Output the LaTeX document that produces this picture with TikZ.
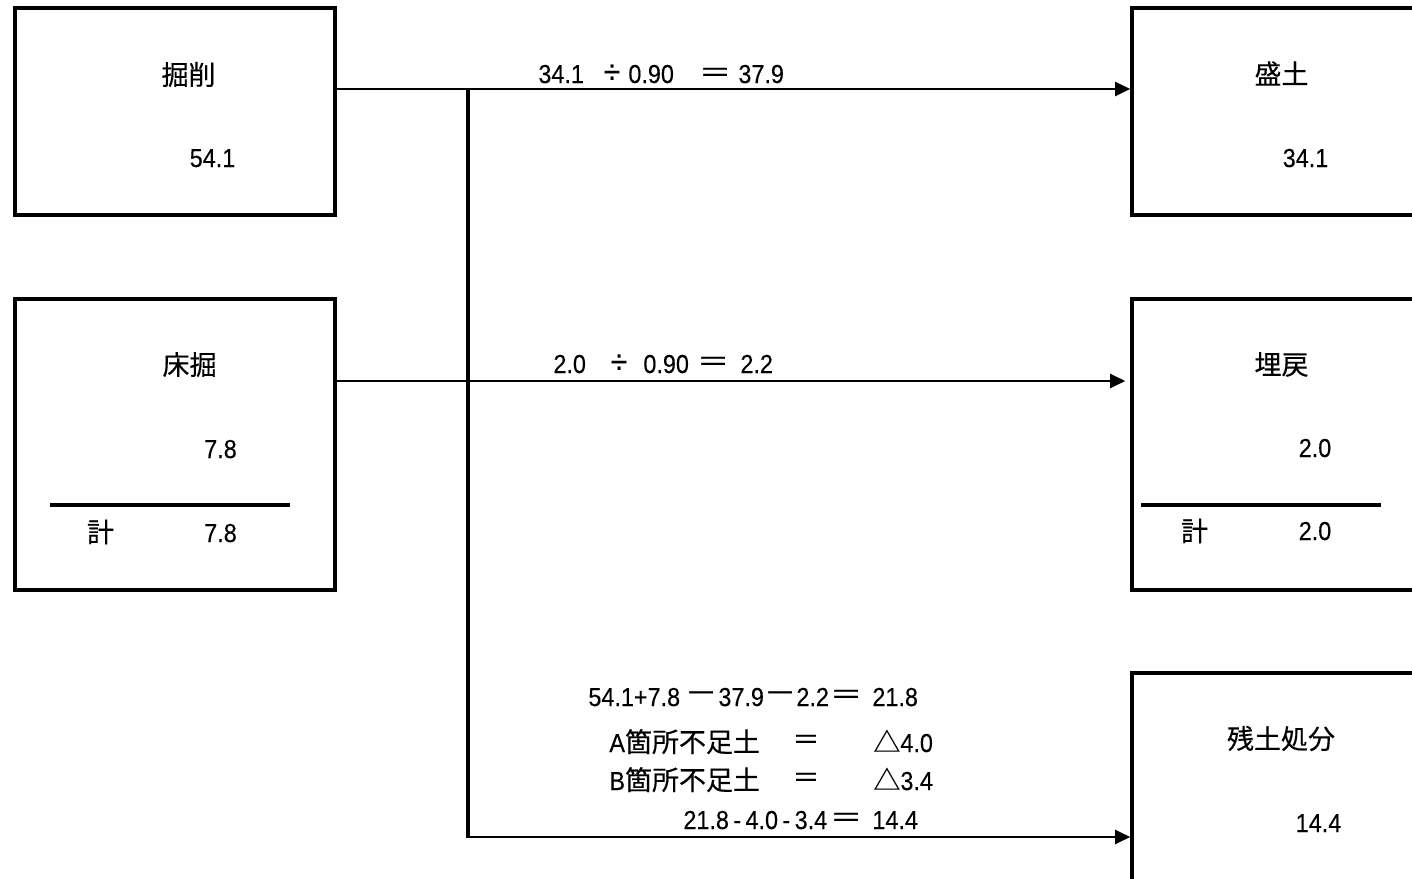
\documentclass[tikz,border=0pt]{standalone}
\usepackage{fontspec}
\usepackage{graphicx}
\setmainfont[FakeStretch=0.9,FakeBold=0.25]{Liberation Sans}
\newfontfamily\cjk[FakeBold=0.35]{Noto Sans CJK JP}
\newcommand\J[1]{{\cjk\fontsize{13.5pt}{16pt}\selectfont #1}}
\newcommand\JW[1]{\scalebox{1.2}[1]{\J{#1}}}
\usetikzlibrary{arrows.meta}
\begin{document}
\begin{tikzpicture}[x=0.5pt,y=-0.5pt,
  box/.style={draw,line width=1.8pt,rectangle,inner sep=0pt,minimum width=#1},
  lbl/.style={inner sep=0pt,font=\fontsize{13pt}{15pt}\selectfont},
  bl/.style={lbl,anchor=base},
  blw/.style={lbl,anchor=base west},
  ble/.style={lbl,anchor=base east},
  conn/.style={line width=1.1pt},
  trunk/.style={line width=1.6pt},
  rule/.style={line width=1.7pt},
  arr/.style={line width=1.1pt,-{Triangle[length=7.5pt,width=7pt]}}]
\useasboundingbox (0,0) rectangle (1412,878);
% boxes
\node[box=160pt,minimum height=103.5pt] (kussaku) at (175,111.5) {};
\node[box=160pt,minimum height=145.5pt] (tokobori) at (175,444.5) {};
\node[box=164pt,minimum height=103.5pt] (morido) at (1296,111.5) {};
\node[box=164pt,minimum height=145.5pt] (umemodoshi) at (1296,444.5) {};
\node[box=164pt,minimum height=113.5pt] (zando) at (1296,786.5) {};
% box texts
\node[lbl] (t1) at (188.5,74.5) {\J{掘削}};
\node[bl] (v1) at (212.5,167) {54.1};
\node[lbl] (t2) at (189.5,364.5) {\J{床掘}};
\node[bl] (v2) at (220.5,458) {7.8};
\coordinate (r2a) at (50,505);
\coordinate (r2b) at (290,505);
\draw[rule] (r2a) -- (r2b);
\node[lbl] (k2) at (100.5,532) {\J{計}};
\node[bl] (s2) at (220.5,542) {7.8};
\node[lbl] (t3) at (1281.5,73.5) {\J{盛土}};
\node[bl] (v3) at (1305.5,167) {34.1};
\node[lbl] (t4) at (1281.5,364.5) {\J{埋戻}};
\node[bl] (v4) at (1315,457) {2.0};
\coordinate (r4a) at (1141,505);
\coordinate (r4b) at (1381,505);
\draw[rule] (r4a) -- (r4b);
\node[lbl] (k4) at (1194.5,531) {\J{計}};
\node[bl] (s4) at (1315,540) {2.0};
\node[lbl] (t5) at (1281,738.5) {\J{残土処分}};
\node[bl] (v5) at (1318.5,832) {14.4};
% connectors
\coordinate (j1) at (468,89);
\coordinate (j2) at (468,381);
\coordinate (j3) at (468,837);
\draw[conn] (kussaku.east |- j1) -- (j1);
\draw[arr] (j1) -- (morido.west |- j1);
\draw[arr,shorten >=2.5pt] (tokobori.east |- j2) -- (umemodoshi.west |- j2);
\draw[trunk] (j1) -- (j3);
\draw[arr] ([xshift=-0.8pt]j3) -- (zando.west |- j3);
% formula 1
\node[blw] (f1a) at (538,83) {34.1};
\node[lbl] (f1b) at (612,74) {\fontsize{17pt}{17pt}\selectfont ÷};
\node[blw] (f1c) at (628,83) {0.90};
\node[lbl] (f1d) at (715,75) {\JW{＝}};
\node[blw] (f1e) at (738,83) {37.9};
% formula 2
\node[blw] (f2a) at (553,373) {2.0};
\node[lbl] (f2b) at (619,364) {\fontsize{17pt}{17pt}\selectfont ÷};
\node[blw] (f2c) at (643,373) {0.90};
\node[lbl] (f2d) at (713,364) {\JW{＝}};
\node[blw] (f2e) at (740,373) {2.2};
% remaining soil block
\node[blw] (g1a) at (588,706) {54.1+7.8};
\node[lbl] (g1b) at (701,697) {\JW{－}};
\node[blw] (g1c) at (718,706) {37.9};
\node[lbl] (g1d) at (780,697) {\JW{－}};
\node[blw] (g1e) at (796,706) {2.2};
\node[lbl] (g1f) at (846,697) {\JW{＝}};
\node[blw] (g1g) at (872,706) {21.8};
\node[blw] (g2a) at (609,752) {A\J{箇所不足土}};
\node[lbl] (g2b) at (806,742) {\J{＝}};
\node[blw] (g2c) at (873,752) {\J{△}4.0};
\node[blw] (g3a) at (609,790) {B\J{箇所不足土}};
\node[lbl] (g3b) at (806,780) {\J{＝}};
\node[blw] (g3c) at (873,790) {\J{△}3.4};
\node[blw] (g4a) at (683,829) {21.8\kern2.2pt-\kern2.2pt4.0\kern2.2pt-\kern2.2pt3.4};
\node[lbl] (g4f) at (846,820) {\JW{＝}};
\node[blw] (g4g) at (872,829) {14.4};
\end{tikzpicture}
\end{document}
